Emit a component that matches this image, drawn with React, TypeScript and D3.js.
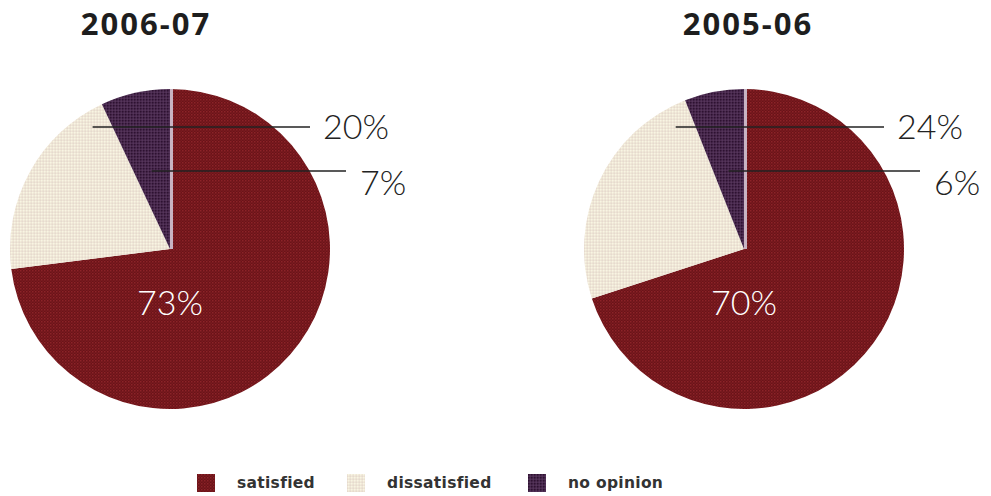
import React from "react";
import * as d3 from "d3";

const years = ["2006-07", "2005-06"];
const categories = ["satisfied", "dissatisfied", "no opinion"];
const satisfied = [73, 70];
const dissatisfied = [20, 24];
const noOpinion = [7, 6];

const W = 991;
const H = 496;
const R = 160;
const CY = 249;
const centers = [170, 744];
const patIds = ["pSat", "pDis", "pNo"];

const arc = d3.arc<any>().innerRadius(0).outerRadius(R);
const pie = d3.pie<number>().sort(null).value((d) => d);

export default function App() {
  const fontLight = "Lato, 'Open Sans', sans-serif";
  return (
    <svg width={W} height={H} style={{ position: "absolute", left: 0, top: 0, background: "#fff" }}>
      <defs>
        <pattern id="pSat" width="3" height="3" patternUnits="userSpaceOnUse">
          <rect width="3" height="3" fill="#6a1318" />
          <rect x="0" y="0" width="1.5" height="1.5" fill="#8c2328" />
          <rect x="1.5" y="1.5" width="1.5" height="1.5" fill="#7a1a1f" />
        </pattern>
        <pattern id="pDis" width="3" height="3" patternUnits="userSpaceOnUse">
          <rect width="3" height="3" fill="#efe7d5" />
          <rect x="0" y="0" width="1.5" height="1.5" fill="#f8f4e4" />
          <rect x="1.5" y="1.5" width="1.5" height="1.5" fill="#e6d9cf" />
        </pattern>
        <pattern id="pNo" width="3" height="3" patternUnits="userSpaceOnUse">
          <rect width="3" height="3" fill="#48284e" />
          <rect x="0" y="0" width="1.5" height="1.5" fill="#2d1230" />
          <rect x="1.5" y="1.5" width="1.5" height="1.5" fill="#55365a" />
        </pattern>
      </defs>
      {years.map((yr, i) => {
        const cx = centers[i];
        const vals = [satisfied[i], dissatisfied[i], noOpinion[i]];
        const arcs = pie(vals);
        const lineY1 = 127;
        const lineY2 = 171;
        const disBoundary = cx - (CY - lineY1) * Math.tan(2 * Math.PI - arcs[2].startAngle);
        const noBoundary = cx - (CY - lineY2) * Math.tan(2 * Math.PI - arcs[2].startAngle);
        const disStart = disBoundary - 20;
        const noStart = (noBoundary + cx) / 2;
        const disEnd = cx + 140;
        const noEnd = cx + 176;
        return (
          <g key={yr}>
            <text
              x={cx - 24 + (i === 0 ? 0 : 28)}
              y={35}
              textAnchor="middle"
              fontFamily="'Open Sans', sans-serif"
              fontWeight={700}
              fontSize={31}
              letterSpacing={2}
              fill="#1e1e1e"
            >
              {yr}
            </text>
            <g transform={`translate(${cx},${CY})`}>
              {arcs.map((a, j) => (
                <path key={j} d={arc(a) as string} fill={`url(#${patIds[j]})`} />
              ))}
              <line x1={1.5} x2={1.5} y1={0} y2={-R} stroke="#c8b4c3" strokeWidth={3} />
            </g>
            <line x1={disStart} x2={disEnd} y1={lineY1} y2={lineY1} stroke="#222" strokeWidth={1.6} />
            <line x1={noStart} x2={noEnd} y1={lineY2} y2={lineY2} stroke="#222" strokeWidth={1.6} />
            <text x={disEnd + 13} y={lineY1} dy="0.36em" fontFamily={fontLight} fontWeight={300} fontSize={34} fill="#222">
              {dissatisfied[i]}%
            </text>
            <text x={noEnd + 14} y={lineY2 + 12} dy="0.36em" fontFamily={fontLight} fontWeight={300} fontSize={34} fill="#222">
              {noOpinion[i]}%
            </text>
            <text
              x={cx}
              y={CY + 54}
              dy="0.36em"
              textAnchor="middle"
              fontFamily={fontLight}
              fontWeight={300}
              fontSize={34}
              fill="#fff"
            >
              {satisfied[i]}%
            </text>
          </g>
        );
      })}
      {categories.map((c, k) => {
        const xs = [197, 347, 528];
        return (
          <g key={c}>
            <rect x={xs[k]} y={474} width={18} height={18} fill={`url(#${patIds[k]})`} />
            <text
              x={xs[k] + 40}
              y={483}
              dy="0.35em"
              fontFamily="'DejaVu Sans', sans-serif"
              fontWeight={700}
              fontSize={15.5}
              letterSpacing={0.3}
              fill="#333"
            >
              {c}
            </text>
          </g>
        );
      })}
    </svg>
  );
}
